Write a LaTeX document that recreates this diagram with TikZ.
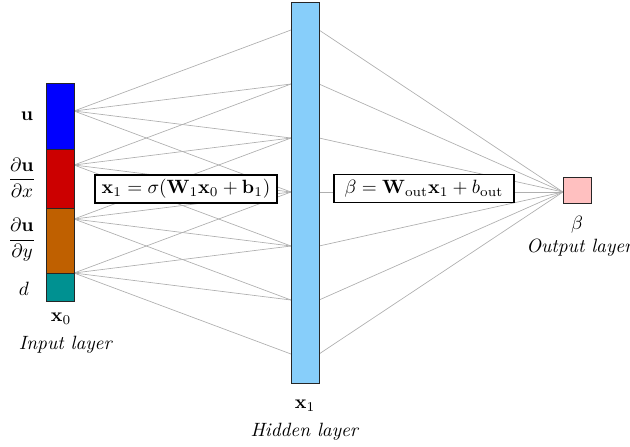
\documentclass[tikz,border=0pt]{standalone}
\usepackage{amsmath}
\definecolor{ublue}{RGB}{0,0,255}
\definecolor{ured}{RGB}{204,0,0}
\definecolor{uorange}{RGB}{191,96,0}
\definecolor{uteal}{RGB}{0,145,145}
\definecolor{hblue}{RGB}{135,206,250}
\definecolor{opink}{RGB}{255,192,192}
\definecolor{lgray}{RGB}{175,175,175}
\begin{document}
\begin{tikzpicture}[x=0.52pt,y=-0.52pt,
  conn/.style={draw=lgray, line width=0.35pt},
  seg/.style={draw=black!85, line width=0.5pt},
  eqbox/.style={draw=black, line width=0.9pt, fill=white, inner sep=0pt, minimum height=14.6pt},
  lab/.style={inner sep=0pt}]
\useasboundingbox (0,0) rectangle (630,446);
% fan points
\foreach \i/\yy in {1/111,2/165,3/219,4/273} \coordinate (in\i) at (74,\yy);
\foreach \j/\yy in {1/30,2/84,3/138,4/192,5/246,6/300,7/354} {
  \coordinate (hl\j) at (291,\yy);
  \coordinate (hr\j) at (319,\yy);
}
\coordinate (out) at (563,192);
% connections (banded: input i to hidden i..i+3)
\foreach \i in {1,...,4} \foreach \k in {0,...,3} {
  \pgfmathtruncatemacro{\jj}{\i+\k}
  \draw[conn] (in\i) -- (hl\jj);
}
\foreach \j in {1,...,7} \draw[conn] (hr\j) -- (out);
% input bar
\draw[seg, fill=ublue] (46,83) rectangle (74,149);
\draw[seg, fill=ured] (46,149) rectangle (74,208);
\draw[seg, fill=uorange] (46,208) rectangle (74,273);
\draw[seg, fill=uteal] (46,273) rectangle (74,301);
% hidden bar
\draw[seg, fill=hblue] (291,2) rectangle (319,383);
% output
\draw[seg, fill=opink] (563,177) rectangle (591,203);
% equation boxes
\node[eqbox, minimum width=94.6pt] (eq1) at (186,189) {$\mathbf{x}_1=\sigma(\mathbf{W}_1\mathbf{x}_0+\mathbf{b}_1)$};
\node[eqbox, minimum width=93.6pt] (eq2) at (424,188.5) {$\beta=\mathbf{W}_{\text{out}}\mathbf{x}_1+b_{\text{out}}$};
% labels
\node[lab] (lu) at (27,116) {$\mathbf{u}$};
\node[lab] (lux) at (22,178) {$\dfrac{\partial\mathbf{u}}{\partial x}$};
\node[lab] (luy) at (22,240) {$\dfrac{\partial\mathbf{u}}{\partial y}$};
\node[lab] (ld) at (24,289) {$d$};
\node[lab] (lx0) at (61,319) {$\mathbf{x}_0$};
\node[lab] (lin) at (66,345) {\textit{Input layer}};
\node[lab] (lx1) at (305,406) {$\mathbf{x}_1$};
\node[lab] (lhid) at (305,432) {\textit{Hidden layer}};
\node[lab] (lb) at (577,225) {$\beta$};
\node[lab] (lout) at (580,248) {\textit{Output layer}};
\end{tikzpicture}
\end{document}
